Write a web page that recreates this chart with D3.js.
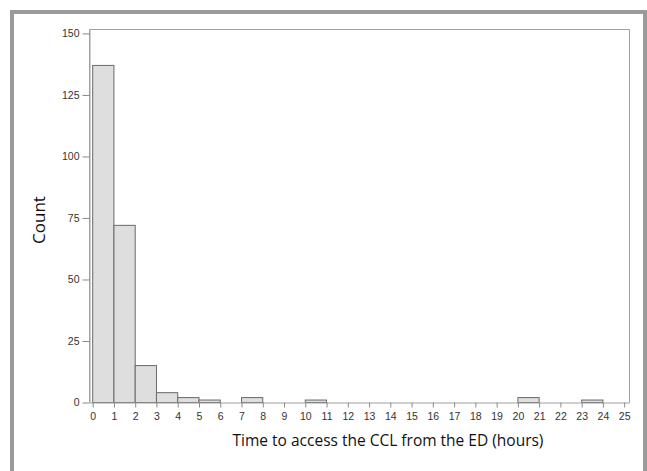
<!DOCTYPE html>
<html>
<head>
<meta charset="utf-8">
<script src="https://cdn.jsdelivr.net/npm/d3@7"></script>
<style>
  body { margin: 0; background: #fff; }
  svg { display: block; }
</style>
</head>
<body>
<div id="chart"></div>
<script>
// histogram bins, one per hour
let binStarts = d3.range(0, 25);
let counts = [137, 72, 15, 4, 2, 1, 0, 2, 0, 0, 1, 0, 0, 0, 0, 0, 0, 0, 0, 0, 2, 0, 0, 1, 0];
let xTicks = d3.range(0, 26);
let yTicks = [0, 25, 50, 75, 100, 125, 150];

const width = 647, height = 471;

let svg = d3.select('#chart')
  .append('svg')
    .attr('width', width)
    .attr('height', height);

// outer frame (bottom runs off the picture)
svg.append('rect')
  .attr('x', 12).attr('y', 12)
  .attr('width', 633).attr('height', 480)
  .attr('fill', 'none')
  .attr('stroke', '#9a9a9a')
  .attr('stroke-width', 4);

let x = d3.scaleLinear().domain([-0.15, 25.25]).range([89.5, 629.5]);
let y = d3.scaleLinear().domain([0, 151.6]).range([402.5, 29.5]);

// plot box
svg.append('path')
  .attr('d', `M${x(-0.15)},${y(0)}V${y(151.6)}H${x(25.25)}V${y(0)}`)
  .attr('fill', 'none')
  .attr('stroke', '#a0a0a0')
  .attr('stroke-width', 1);

let data = binStarts.map((b, i) => ({ x0: b, x1: b + 1, n: counts[i] }))
  .filter(d => d.n > 0);

svg.selectAll('.bar')
  .data(data)
  .enter()
  .append('rect')
    .attr('class', 'bar')
    .attr('x', d => x(d.x0))
    .attr('y', d => y(d.n))
    .attr('width', d => x(d.x1) - x(d.x0))
    .attr('height', d => y(0) - y(d.n))
    .attr('fill', '#dedede')
    .attr('stroke', '#6a6a6a')
    .attr('stroke-width', 1);

let xAxis = svg.append('g')
  .attr('transform', `translate(0,${y(0)})`)
  .call(d3.axisBottom(x).tickValues(xTicks).tickSize(5).tickPadding(5).tickSizeOuter(0));

let yAxis = svg.append('g')
  .attr('transform', `translate(${x(-0.15)},0)`)
  .call(d3.axisLeft(y).tickValues(yTicks).tickSize(7).tickPadding(3).tickSizeOuter(0));

[xAxis, yAxis].forEach(g => {
  g.select('.domain').attr('stroke', '#a0a0a0');
  g.selectAll('.tick line').attr('stroke', '#8a8a8a');
  g.selectAll('.tick text')
    .attr('fill', '#333')
    .style('font-family', 'Liberation Sans, Arial, sans-serif')
    .style('font-size', '10.5px');
});

// axis titles
svg.append('text')
  .attr('transform', 'translate(45,220) rotate(-90)')
  .attr('text-anchor', 'middle')
  .style('font-family', 'Open Sans, sans-serif')
  .style('font-size', '17px')
  .attr('fill', '#111')
  .text('Count');

svg.append('text')
  .attr('x', 388)
  .attr('y', 446)
  .attr('text-anchor', 'middle')
  .style('font-family', 'Open Sans, sans-serif')
  .style('font-size', '15.5px')
  .attr('fill', '#111')
  .text('Time to access the CCL from the ED (hours)');
</script>
</body>
</html>
